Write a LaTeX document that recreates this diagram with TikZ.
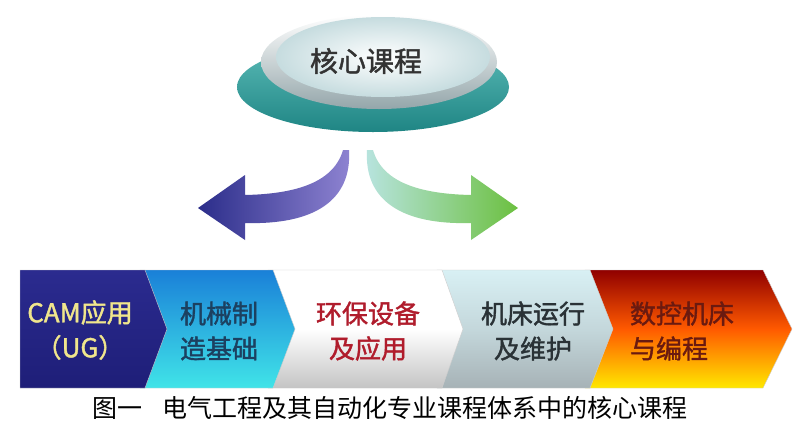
\documentclass[tikz,border=0pt]{standalone}
\usepackage{fontspec}
\newfontfamily\cjk{Noto Sans CJK SC}
\newfontfamily\cjkb[FakeBold=1.5]{Noto Sans CJK SC}
\definecolor{DiscTeal}{HTML}{5CBCB8}
\definecolor{DiscTealDark}{HTML}{1F8584}
\definecolor{RimGrey}{HTML}{94A6AA}
\definecolor{FaceBlue}{HTML}{C6DCDF}
\definecolor{NavyTip}{HTML}{2B2D8A}
\definecolor{LilacTail}{HTML}{8F84D2}
\definecolor{MintTail}{HTML}{B8E4E0}
\definecolor{LeafGreen}{HTML}{6CC040}
\definecolor{CamTop}{HTML}{2B2B8F}
\definecolor{CamBot}{HTML}{1E1E78}
\definecolor{MechTop}{HTML}{1A80D8}
\definecolor{MechBot}{HTML}{40E4E8}
\definecolor{EnvBot}{HTML}{C4C4C4}
\definecolor{LatheTop}{HTML}{D8F0F4}
\definecolor{LatheBot}{HTML}{A6B2B6}
\definecolor{CncTop}{HTML}{900000}
\definecolor{CncMid}{HTML}{FF5A00}
\definecolor{CncBot}{HTML}{FFE800}
\definecolor{CamText}{HTML}{F0E68C}
\definecolor{MechText}{HTML}{1C4060}
\definecolor{EnvText}{HTML}{B01C2C}
\definecolor{LatheText}{HTML}{2A3236}
\definecolor{CncText}{HTML}{6A1A10}

\begin{document}
\begin{tikzpicture}[
        x=1pt, y=-1pt,
        seg/.style={draw=gray!40, line width=0.4pt},
        course/.style={font=\cjkb\fontsize{26}{35}\selectfont, align=center},
        title/.style={font=\cjkb\fontsize{28}{32}\selectfont, text=black!80},
        bigarrow/.style={draw=none}
      ]
        \useasboundingbox[fill=white] (0,0) rectangle (800,426);

        % disc
        \shade[top color=DiscTeal, bottom color=DiscTealDark] (373,87) ellipse [x radius=136, y radius=45];
        \shade[top color=white, bottom color=RimGrey] (379,62) ellipse [x radius=118, y radius=47];
        \shade[inner color=white, outer color=FaceBlue] (383,57) ellipse [x radius=107, y radius=40];
        \node (core) [title] at (366,61) {核心课程};

        % arrows
        \shade[bigarrow, left color=NavyTip, right color=LilacTail]
          (343,150) .. controls (333,185) and (290,194) .. (245,195) -- (245,175) -- (198,208)
          -- (245,240) -- (245,223) .. controls (315,225) and (352,200) .. (349,150) -- cycle;
        \shade[bigarrow, left color=MintTail, right color=LeafGreen]
          (373,150) .. controls (383,185) and (426,194) .. (471,195) -- (471,175) -- (518,208)
          -- (471,240) -- (471,223) .. controls (401,225) and (364,200) .. (367,150) -- cycle;

        % banner, right to left
        \foreach \xl/\xt/\xp/\ctop/\cmid/\cbot in {
            585/763/792/CncTop/CncMid/CncBot,
            437/590/613/LatheTop/LatheTop!60!LatheBot/LatheBot,
            268/442/463/white/white/EnvBot,
            140/273/295/MechTop/MechTop!50!MechBot/MechBot,
            20/145/167/CamTop/CamTop!50!CamBot/CamBot} {
          \shade[seg, top color=\ctop, bottom color=\cbot, middle color=\cmid]
            (\xl,270) -- (\xt,270) -- (\xp,329) -- (\xt,388) -- (\xl,388) -- cycle;
        }

        \node (c1) [course, text=CamText] at (80,330) {CAM应用\\（UG）};
        \node (c2) [course, text=MechText] at (219,331) {机械制\\造基础};
        \node (c3) [course, text=EnvText] at (368,331) {环保设备\\及应用};
        \node (c4) [course, text=LatheText] at (533,331) {机床运行\\及维护};
        \node (c5) [course, text=CncText, align=left] at (682,331) {数控机床\\与编程};

        \node (figcap) [font=\cjk\fontsize{25}{28}\selectfont] at (390,408) {图一\hspace{0.8em}电气工程及其自动化专业课程体系中的核心课程};
      \end{tikzpicture}
\end{document}
